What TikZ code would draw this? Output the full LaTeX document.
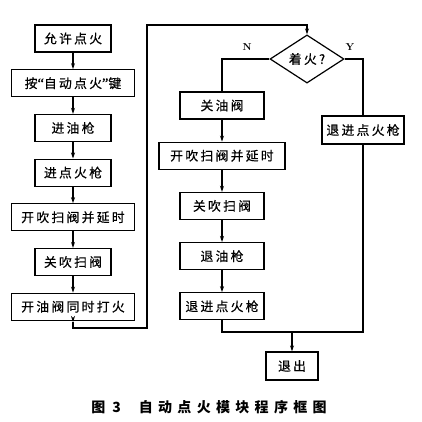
\documentclass[tikz,border=0pt]{standalone}
\usepackage{fontspec}
\newfontfamily\boxfont[LetterSpace=18,FakeBold=0.5]{Noto Sans CJK SC}
\newfontfamily\quotefont[FakeBold=0.5]{Liberation Serif}
\newfontfamily\capfont[LetterSpace=38]{Noto Sans CJK SC}
\usepackage{tikz}
\usetikzlibrary{arrows.meta,positioning,shapes.geometric}

\begin{document}
\begin{tikzpicture}[->,>={Stealth[length=6pt,width=4pt]},x=1pt,y=-1pt,line width=1.2pt,
  node distance=16.5pt,
  box/.style={draw,-,inner sep=0pt,minimum height=27pt,
  font=\boxfont\fontsize{12.8}{14}\selectfont},
  narrow box/.style={box,minimum width=76pt},
  wide box/.style={box,minimum width=123pt},
  mid box/.style={box,minimum width=84pt},
  test node/.style={box,diamond,minimum width=74pt,minimum height=34pt},
  branch/.style={font=\bfseries,inner sep=0pt}]

  \useasboundingbox (0,0) rectangle (422,421);

  \node[narrow box] (allow) at (73,38.5) {允许点火};
  \node[wide box] (press) [below=of allow] {按{\quotefont\Large“}自动点火{\quotefont\Large”}键};
  \node[narrow box] (oilin) [below=of press] {进油枪};
  \node[narrow box] (gunin) [below=of oilin] {进点火枪};
  \node[wide box] (purge) [below=of gunin] {开吹扫阀并延时};
  \node[narrow box] (purgeoff) [below=of purge] {关吹扫阀};
  \node[wide box] (fire) [below=of purgeoff] {开油阀同时打火};

  \node[test node] (lit) at (307,59) {着火?};
  \node[branch] (no) at (247,47) {N};
  \node[branch] (yes) at (350,47) {Y};

  \node[mid box] (oiloff) at (222,105.5) {关油阀};
  \node[box,minimum width=126pt] (purgetwo) [below=22pt of oiloff] {开吹扫阀并延时};
  \node[mid box] (purgeofftwo) [below=22pt of purgetwo] {关吹扫阀};
  \node[mid box] (oilout) [below=22pt of purgeofftwo] {退油枪};
  \node[mid box] (gunout) [below=22pt of oilout] {退进点火枪};

  \node[box,minimum width=82pt,minimum height=28pt] (gunback) at (363,130) {退进点火枪};
  \node[box,minimum width=52pt,minimum height=28pt] (quit) at (292,366) {退出};

  \coordinate (drop) at (73,322);
  \coordinate (low) at (147,328);
  \coordinate (high) at (147,25);
  \coordinate (join) at (292,332);

  \draw (allow) -- (press);
  \draw (press) -- (oilin);
  \draw (oilin) -- (gunin);
  \draw (gunin) -- (purge);
  \draw (purge) -- (purgeoff);
  \draw (purgeoff) -- (fire);
  \draw (fire) -- (drop);
  \draw (drop) |- (low) -- (high) -| (lit.north);

  \draw[-] (lit.west) -| (oiloff.north);
  \draw[-] (lit.east) -| (gunback.north);
  \draw (oiloff) -- (purgetwo);
  \draw (purgetwo) -- (purgeofftwo);
  \draw (purgeofftwo) -- (oilout);
  \draw (oilout) -- (gunout);
  \draw[-] (gunout.south) |- (join) -| (gunback.south);
  \draw (join) -- (quit);

  \node[font=\capfont\bfseries\fontsize{14}{16}\selectfont] (caption)
    at (209,407) {图\kern7pt 3\kern18pt 自动点火模块程序框图};
\end{tikzpicture}
\end{document}
